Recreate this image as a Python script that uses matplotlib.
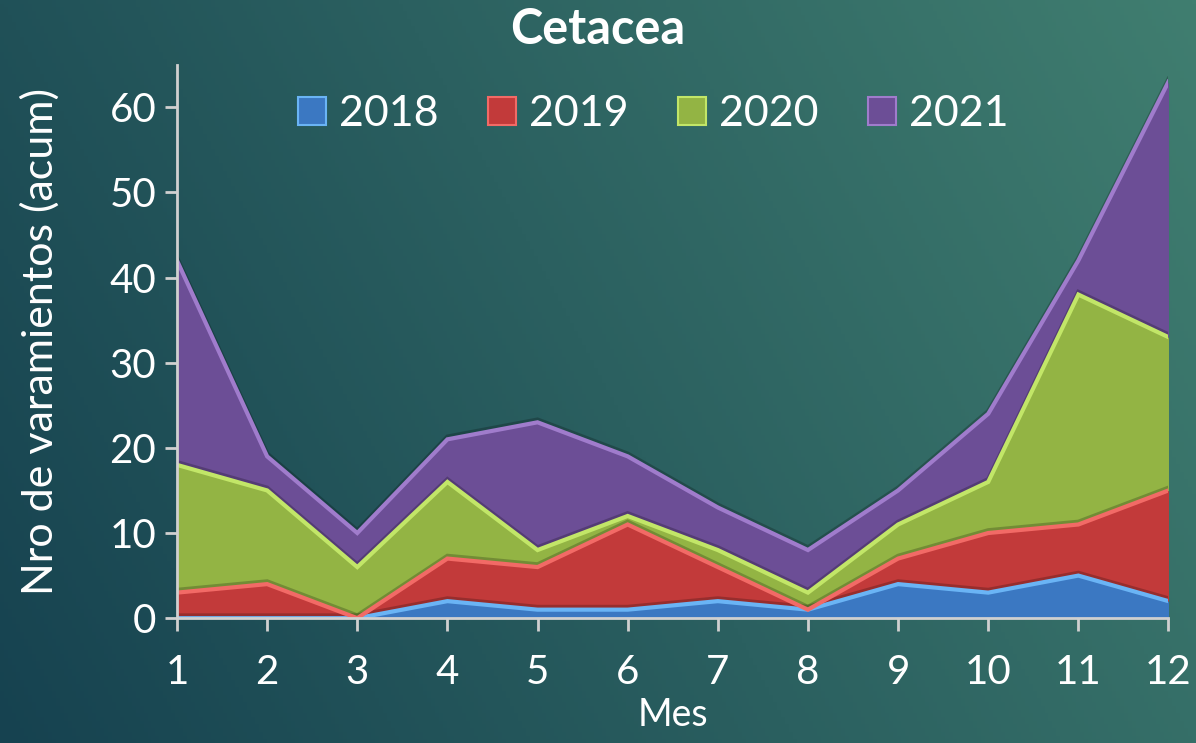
import numpy as np
import matplotlib.pyplot as plt
import matplotlib.patheffects as pe
from matplotlib.patches import Patch

plt.rcParams['font.family'] = ['Lato', 'DejaVu Sans']

meses = [1, 2, 3, 4, 5, 6, 7, 8, 9, 10, 11, 12]
anios = ['2018', '2019', '2020', '2021']
v2018 = [0, 0, 0, 2, 1, 1, 2, 1, 4, 3, 5, 2]
v2019 = [3, 4, 0, 5, 5, 10, 4, 0, 3, 7, 6, 13]
v2020 = [15, 11, 6, 9, 2, 1, 2, 2, 4, 6, 27, 18]
v2021 = [24, 4, 4, 5, 15, 7, 5, 5, 4, 8, 4, 30]

colores = ['#3b78c2', '#c23a3a', '#93b444', '#6c4e96']
brillos = ['#6ab4f5', '#f26a66', '#c2e668', '#a07ccc']

fig = plt.figure(figsize=(11.96, 7.43), dpi=100)

# fondo degradado
bg = fig.add_axes([0, 0, 1, 1], zorder=-10)
gx, gy = np.meshgrid(np.linspace(0, 1, 300), np.linspace(0, 1, 200))
t = 0.75 * gx + 0.25 * (1 - gy)
c0 = np.array([22, 66, 80]) / 255
c1 = np.array([64, 126, 112]) / 255
img = c0 + (c1 - c0) * t[..., None]
bg.imshow(img, aspect='auto', extent=[0, 1, 0, 1], origin='upper')
bg.axis('off')

ax = fig.add_axes([0.148, 0.168, 0.829, 0.745])
ax.patch.set_alpha(0)

x = np.array(meses)
series = [np.array(v2018), np.array(v2019), np.array(v2020), np.array(v2021)]
base = np.zeros(len(x))
tops = []
for s, c in zip(series, colores):
    top = base + s
    ax.fill_between(x, base, top, color=c, lw=0, zorder=2)
    tops.append(top)
    base = top

for top, b in zip(tops, brillos):
    ax.plot(x, top, color=b, lw=3, solid_joinstyle='miter', zorder=3,
            path_effects=[pe.SimpleLineShadow(offset=(0, 2), shadow_color='black', alpha=0.22),
                          pe.Normal()])

ax.set_xlim(1, 12)
ax.set_ylim(0, 65)
ax.set_xticks(meses)
ax.set_yticks([0, 10, 20, 30, 40, 50, 60])
for sp in ['top', 'right']:
    ax.spines[sp].set_visible(False)
for sp in ['left', 'bottom']:
    ax.spines[sp].set_color('#d0d0d0')
    ax.spines[sp].set_linewidth(2)
    ax.spines[sp].set_zorder(5)
ax.tick_params(colors='#d0d0d0', labelcolor='white', labelsize=29, width=2, length=9, direction='out')
ax.tick_params(axis='x', pad=17)
ax.tick_params(axis='y', pad=6)

ax.set_xlabel('Mes', color='white', fontsize=27, labelpad=4)
ax.set_ylabel('Nro de varamientos (acum)', color='white', fontsize=31, labelpad=36)
fig.suptitle('Cetacea', color='white', fontsize=35, fontweight='bold', y=0.99)

handles = [Patch(facecolor=c, edgecolor=b, lw=1.5) for c, b in zip(colores, brillos)]
leg = ax.legend(handles, anios, loc='upper center', bbox_to_anchor=(0.48, 1.015), ncol=4,
                frameon=False, fontsize=31, labelcolor='white', handlelength=0.65,
                handleheight=0.65, handletextpad=0.3, columnspacing=1.15)

fig.savefig('out.png', dpi=100)
